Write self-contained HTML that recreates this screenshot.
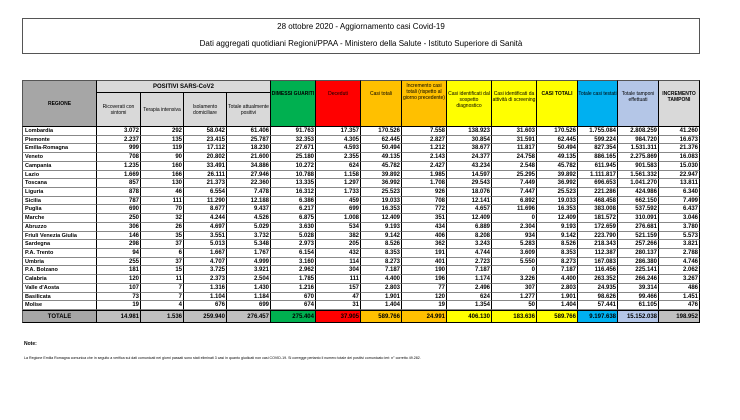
<!DOCTYPE html>
<html><head><meta charset="utf-8"><style>
body{margin:0;width:740px;height:420px;background:#fff;position:relative;overflow:hidden;font-family:"Liberation Sans",sans-serif;}
.c{position:absolute;box-sizing:border-box;border-right:1px solid #000;border-bottom:1px solid #000;font-weight:bold;color:#000;overflow:hidden;white-space:nowrap;}
.h{display:flex;align-items:center;justify-content:center;text-align:center;white-space:normal;font-size:5px;line-height:6px;font-weight:normal;}
.n{font-size:6px;line-height:8px;text-align:right;padding-right:1px;}
.r{font-size:5.5px;line-height:8px;text-align:left;padding-left:2px;}
</style></head><body>
<div style="position:absolute;left:22px;top:18px;width:678px;height:36px;box-sizing:border-box;border:1px solid #555;"></div>
<div style="position:absolute;left:22px;top:22px;width:678px;text-align:center;font-size:8px;">28 ottobre 2020 - Aggiornamento casi Covid-19</div>
<div style="position:absolute;left:22px;top:39px;width:678px;text-align:center;font-size:8px;">Dati aggregati quotidiani Regioni/PPAA - Ministero della Salute - Istituto Superiore di Sanità</div>
<div id="tbl"></div>
<div style="position:absolute;left:24px;top:341px;font-size:5px;font-weight:bold;">Note:</div>
<div style="position:absolute;left:24px;top:356px;font-size:3.6px;white-space:nowrap;">La Regione Emilia Romagna comunica che in seguito a verifica sui dati comunicati nei giorni passati sono stati eliminati 3 casi in quanto giudicati non casi COVID-19. Si corregge pertanto il numero totale dei positivi comunicato ieri: n° corretto 49.282.</div>
<script>
const regions=["Lombardia","Piemonte","Emilia-Romagna","Veneto","Campania","Lazio","Toscana","Liguria","Sicilia","Puglia","Marche","Abruzzo","Friuli Venezia Giulia","Sardegna","P.A. Trento","Umbria","P.A. Bolzano","Calabria","Valle d'Aosta","Basilicata","Molise"];
const rows=[
["3.072","292","58.042","61.406","91.763","17.357","170.526","7.558","138.923","31.603","170.526","1.755.084","2.808.259","41.260"],
["2.237","135","23.415","25.787","32.353","4.305","62.445","2.827","30.854","31.591","62.445","599.224","984.720","16.673"],
["999","119","17.112","18.230","27.671","4.593","50.494","1.212","38.677","11.817","50.494","827.354","1.531.311","21.376"],
["708","90","20.802","21.600","25.180","2.355","49.135","2.143","24.377","24.758","49.135","886.165","2.275.869","16.083"],
["1.235","160","33.491","34.886","10.272","624","45.782","2.427","43.234","2.548","45.782","611.945","901.583","15.030"],
["1.669","166","26.111","27.946","10.788","1.158","39.892","1.985","14.597","25.295","39.892","1.111.817","1.561.332","22.947"],
["857","130","21.373","22.360","13.335","1.297","36.992","1.708","29.543","7.449","36.992","696.653","1.041.270","13.811"],
["878","46","6.554","7.478","16.312","1.733","25.523","926","18.076","7.447","25.523","221.286","424.986","6.340"],
["787","111","11.290","12.188","6.386","459","19.033","708","12.141","6.892","19.033","468.458","662.150","7.499"],
["690","70","8.677","9.437","6.217","699","16.353","772","4.657","11.696","16.353","383.008","537.592","6.437"],
["250","32","4.244","4.526","6.875","1.008","12.409","351","12.409","0","12.409","181.572","310.091","3.046"],
["306","26","4.697","5.029","3.630","534","9.193","434","6.889","2.304","9.193","172.659","276.681","3.780"],
["146","35","3.551","3.732","5.028","382","9.142","406","8.208","934","9.142","223.790","521.159","5.573"],
["298","37","5.013","5.348","2.973","205","8.526","362","3.243","5.283","8.526","218.343","257.266","3.821"],
["94","6","1.667","1.767","6.154","432","8.353","191","4.744","3.609","8.353","112.387","280.137","2.788"],
["255","37","4.707","4.999","3.160","114","8.273","401","2.723","5.550","8.273","167.083","286.380","4.746"],
["181","15","3.725","3.921","2.962","304","7.187","190","7.187","0","7.187","116.456","225.141","2.062"],
["120","11","2.373","2.504","1.785","111","4.400","196","1.174","3.226","4.400","263.352","266.246","3.267"],
["107","7","1.316","1.430","1.216","157","2.803","77","2.496","307","2.803","24.935","39.314","486"],
["73","7","1.104","1.184","670","47","1.901","120","624","1.277","1.901","98.626","99.466","1.451"],
["19","4","676","699","674","31","1.404","19","1.354","50","1.404","57.441","61.105","476"]];
const totals=["14.981","1.536","259.940","276.457","275.404","37.905","589.766","24.991","406.130","183.636","589.766","9.197.638","15.152.038","198.952"];
const headers=["Ricoverati con sintomi","Terapia intensiva","Isolamento domiciliare","Totale attualmente positivi","DIMESSI GUARITI","Deceduti","Casi totali","Incremento casi totali (rispetto al giorno precedente)","Casi identificati dal sospetto diagnostico","Casi identificati da attività di screening","CASI TOTALI","Totale casi testati","Totale tamponi effettuati","INCREMENTO TAMPONI"];
const edges=[22,97,141,184,227,271,316,361,402,447,492,537,578,618,659,700];
const hcol=["#d9d9d9","#d9d9d9","#d9d9d9","#d9d9d9","#00b050","#ff0000","#ffc000","#ffc000","#ffff00","#ffff00","#ffff00","#00b0f0","#b4c6e7","#d9d9d9"];
const tcol=["#bfbfbf","#bfbfbf","#bfbfbf","#bfbfbf","#00b050","#ff0000","#ffc000","#ffc000","#ffff00","#ffff00","#ffff00","#00b0f0","#b4c6e7","#bfbfbf"];
const T=document.getElementById('tbl');
function cell(x,y,w,h,cls,txt,bg){const d=document.createElement('div');d.className='c '+cls;d.style.left=x+'px';d.style.top=y+'px';d.style.width=w+'px';d.style.height=h+'px';if(bg)d.style.background=bg;d.textContent=txt;T.appendChild(d);return d;}
let e;
e=cell(edges[0],80,edges[1]-edges[0],47,'h','REGIONE','#a6a6a6');e.style.fontWeight='bold';e.style.borderLeft='1px solid #555';e.style.borderTop='1px solid #555';


e=cell(edges[1],80,edges[5]-edges[1],13,'h','POSITIVI SARS-CoV2','#d9d9d9');e.style.fontWeight='bold';e.style.fontSize='6px';e.style.borderTop='1px solid #555';


headers.forEach((t,i)=>{const sub=i<4;const y=sub?93:80;const d=cell(edges[i+1],y,edges[i+2]-edges[i+1],127-y,'h',t,hcol[i]);if(!sub)d.style.borderTop='1px solid #555';if(i===4||i===10||i===13)d.style.fontWeight='bold';if(!sub){d.style.alignItems='flex-start';d.style.paddingTop=(i==7?2:10)+'px';}

});
const rh=(310-127)/regions.length;
regions.forEach((r,j)=>{const y=127+j*rh;const a=cell(edges[0],y,edges[1]-edges[0],rh,'r',r,'#fff');a.style.borderLeft='1px solid #555';a.style.borderBottom='1px solid #888';


rows[j].forEach((v,i)=>{const d=cell(edges[i+1],y,edges[i+2]-edges[i+1],rh,'n',v,'#fff');d.style.borderBottom='1px solid #888';

});});
e=cell(edges[0],310,edges[1]-edges[0],13,'h','TOTALE','#a6a6a6');e.style.fontWeight='bold';e.style.fontSize='6px';e.style.borderLeft='1px solid #555';e.style.borderTop='1px solid #000';


totals.forEach((v,i)=>{const d=cell(edges[i+1],310,edges[i+2]-edges[i+1],13,'n',v,tcol[i]);d.style.lineHeight='12px';d.style.borderTop='1px solid #000';

});
</script>
</body></html>
